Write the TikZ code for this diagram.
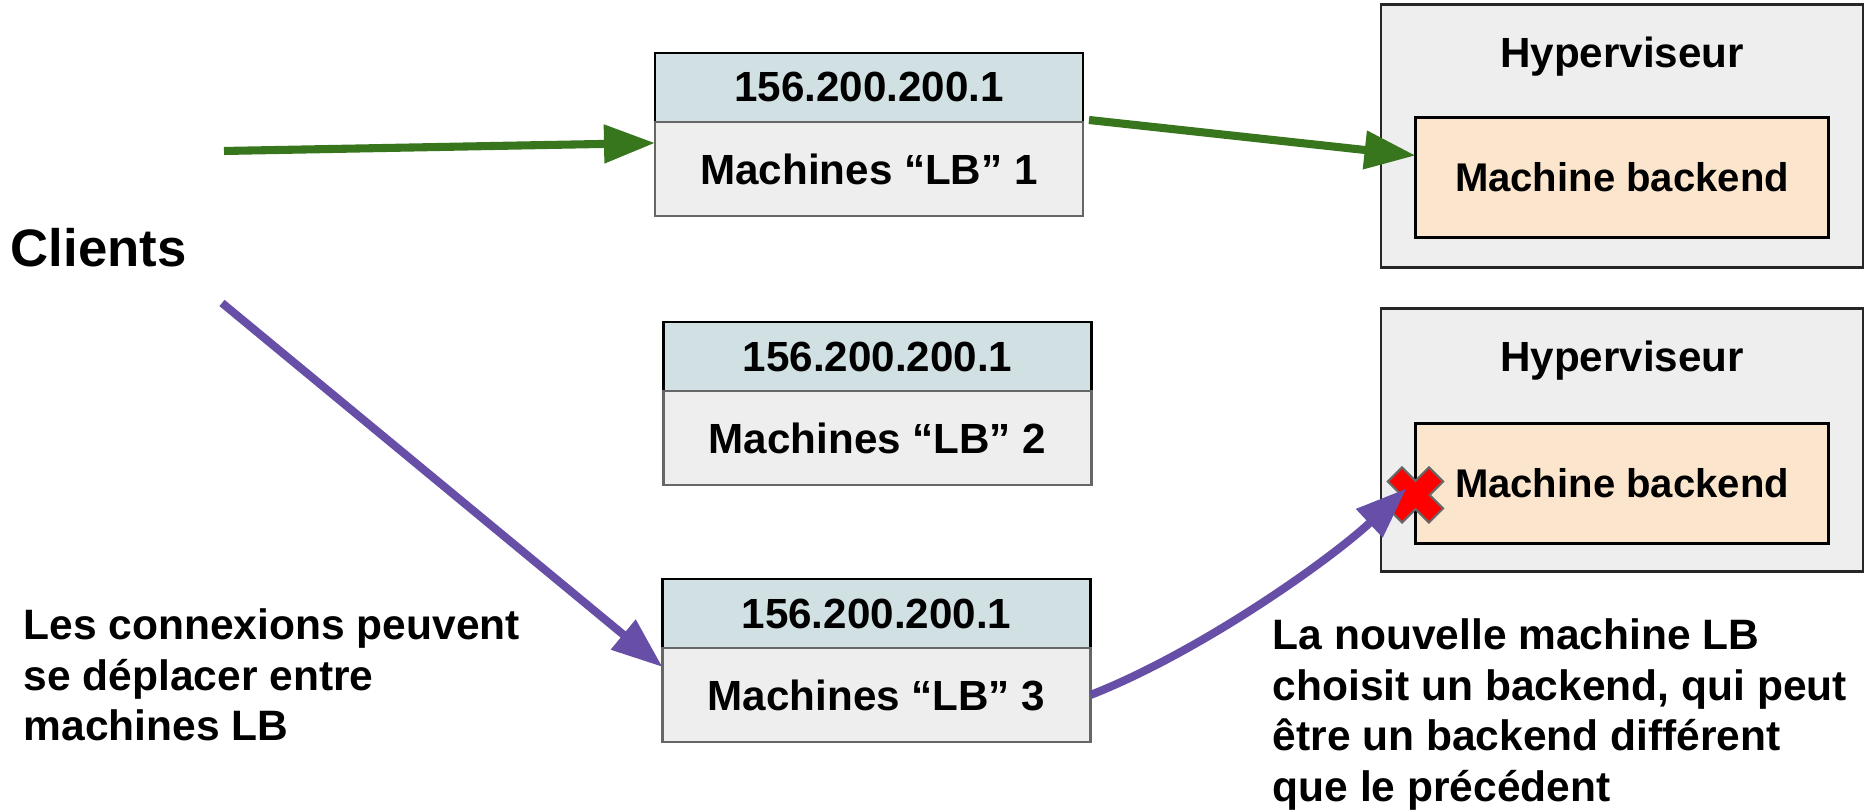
\documentclass[tikz,border=0pt]{standalone}
\usepackage{fontspec}
\setmainfont{Liberation Sans}
\usetikzlibrary{arrows.meta,calc,positioning}

\definecolor{ipblue}{HTML}{D0E0E3}
\definecolor{lbgray}{HTML}{EEEEEE}
\definecolor{backpeach}{HTML}{FCE5CD}
\definecolor{okgreen}{HTML}{38761D}
\definecolor{movepurple}{HTML}{674EA7}

\tikzset{
	iphead/.style={draw=black, fill=ipblue, line width=0.8pt, minimum width=4.28cm, minimum height=0.69cm, inner sep=0pt, outer sep=0pt, font=\fontsize{12}{14}\selectfont\bfseries},
	lbbody/.style={draw=black!60, fill=lbgray, line width=0.8pt, minimum width=4.28cm, minimum height=0.94cm, inner sep=0pt, outer sep=0pt, font=\fontsize{12}{14}\selectfont\bfseries},
	hyper/.style={draw=black!85, fill=lbgray, line width=0.8pt, minimum width=4.82cm, minimum height=2.63cm, inner sep=0pt, outer sep=0pt},
	hypertitle/.style={inner sep=0pt, font=\fontsize{12}{14}\selectfont\bfseries},
	backend/.style={draw=black, fill=backpeach, line width=0.8pt, minimum width=4.13cm, minimum height=1.2cm, inner sep=0pt, outer sep=0pt, font=\fontsize{11.4}{14}\selectfont\bfseries},
	note/.style={inner sep=0pt, align=left, anchor=north west, font=\fontsize{12.1}{14.4}\selectfont\bfseries},
	flow/.style={line width=2.3pt, -{Triangle[length=0.51cm,width=0.37cm]}},
}

\begin{document}
\begin{tikzpicture}
		%%%%% START %%%%%
		\useasboundingbox (0, 0) rectangle (18.7, 8.12);
		
		% the three LB machines, same address
		\node[iphead] (ip1) at (8.69, 7.245) {156.200.200.1};
		\node[lbbody, below=0pt of ip1] (lb1) {Machines “LB” 1};
		\node[iphead] (ip2) at (8.775, 4.555) {156.200.200.1};
		\node[lbbody, below=0pt of ip2] (lb2) {Machines “LB” 2};
		\node[iphead] (ip3) at (8.765, 1.985) {156.200.200.1};
		\node[lbbody, below=0pt of ip3] (lb3) {Machines “LB” 3};
		
		% hypervisors with their backend
		\node[hyper] (hv1) at (16.22, 6.76) {};
		\node[hypertitle, below=0.32cm of hv1.north] (ht1) {Hyperviseur};
		\node[backend, below=1.13cm of hv1.north] (be1) {Machine backend};
		\node[hyper] (hv2) at (16.22, 3.72) {};
		\node[hypertitle, below=0.32cm of hv2.north] (ht2) {Hyperviseur};
		\node[backend, below=1.15cm of hv2.north] (be2) {Machine backend};
		
		\node[inner sep=0pt, anchor=north west, font=\fontsize{15}{18}\selectfont\bfseries] (clients) at (0.10, 5.84) {Clients};
		\coordinate (cl1) at (2.24, 6.61);
		\coordinate (cl2) at (2.22, 5.09);
		
		\node[note] (movenote) at (0.23, 2.04) {Les connexions peuvent\\se déplacer entre\\machines LB};
		\node[note] (newnote) at (12.72, 1.94) {La nouvelle machine LB\\choisit un backend, qui peut\\être un backend différent\\que le précédent};
		
		% red cross on the lost backend
		\draw[fill=red, draw=black!60, line width=0.6pt, shift={($(be2.west)+(0,-0.115)$)}, rotate=45]
			(-0.29, -0.1) -- (-0.1, -0.1) -- (-0.1, -0.29) -- (0.1, -0.29) -- (0.1, -0.1) -- (0.29, -0.1)
			-- (0.29, 0.1) -- (0.1, 0.1) -- (0.1, 0.29) -- (-0.1, 0.29) -- (-0.1, 0.1) -- (-0.29, 0.1) -- cycle;
		
		\draw[flow, okgreen] (cl1) -- ($(lb1.north west)+(0, -0.21)$);
		\draw[flow, okgreen] ($(ip1.south east)+(0.06, 0.02)$) -- ($(be1.north west)+(0, -0.38)$);
		\draw[flow, movepurple] (cl2) -- ($(lb3.north west)+(0, -0.19)$);
		\draw[flow, movepurple] (lb3.east) .. controls (12.00, 1.60) and (13.30, 2.52) .. ($(be2.west)+(-0.09, -0.05)$);
		
		%%%%% END %%%%%
\end{tikzpicture}
\end{document}
